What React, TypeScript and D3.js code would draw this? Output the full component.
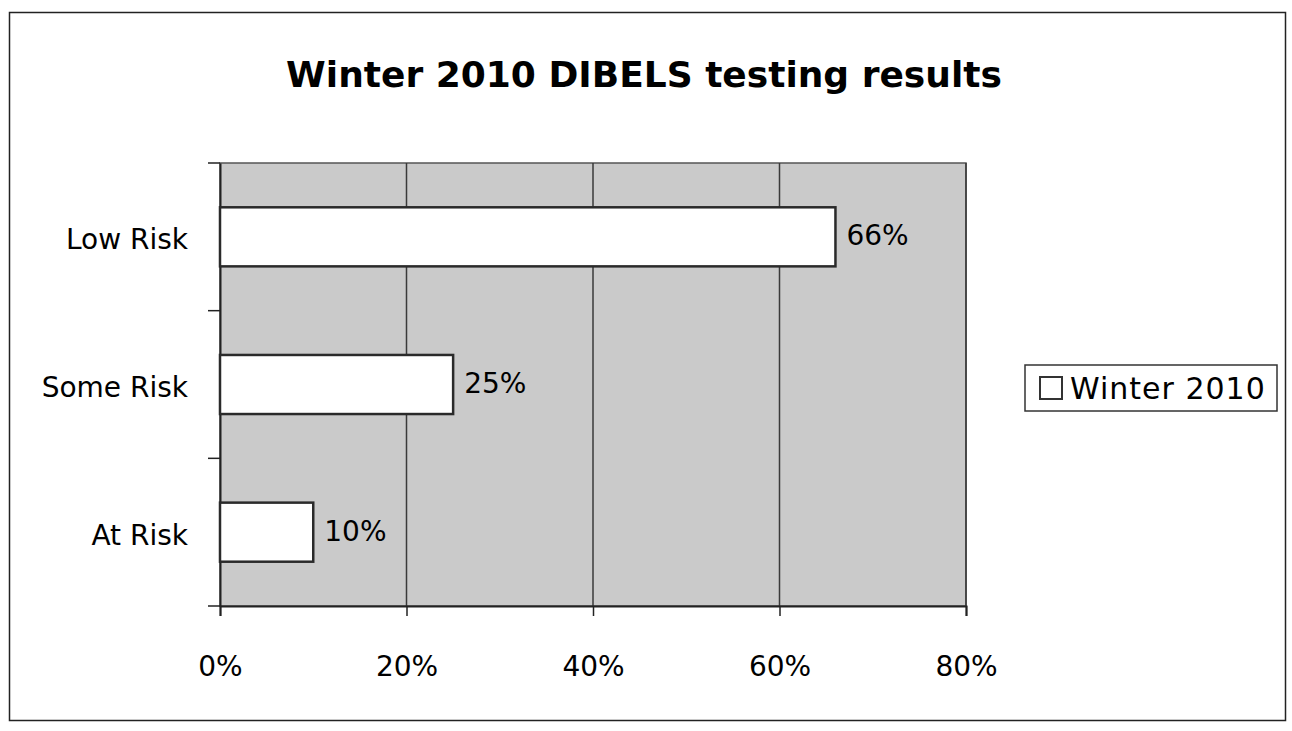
import React, { useRef, useEffect } from 'react';
import { select, scaleLinear, scaleBand, axisBottom, axisLeft, format } from 'd3';

const categories = ['Low Risk', 'Some Risk', 'At Risk'];
const winter2010 = [0.66, 0.25, 0.1];
const xTicks = [0, 0.2, 0.4, 0.6, 0.8];
const seriesName = 'Winter 2010';
const title = 'Winter 2010 DIBELS testing results';

const FONT = "'Comic Sans MS', 'DejaVu Sans', sans-serif";

function BarChart() {
  const svgRef = useRef<SVGSVGElement>(null);

  useEffect(() => {
    const svg = select(svgRef.current);
    svg.selectAll('*').remove();

    const plot = { left: 220, right: 966, top: 163, bottom: 606 };

    const xScale = scaleLinear().domain([0, 0.8]).range([plot.left, plot.right]);
    const yScale = scaleBand()
      .domain(categories)
      .range([plot.top, plot.bottom])
      .paddingInner(0.6)
      .paddingOuter(0.3);

    // outer chart border
    svg
      .append('rect')
      .attr('x', 9.5)
      .attr('y', 12.5)
      .attr('width', 1276)
      .attr('height', 708)
      .attr('fill', '#fff')
      .attr('stroke', '#222')
      .attr('stroke-width', 1.5);

    // title
    svg
      .append('text')
      .attr('x', 644)
      .attr('y', 87)
      .attr('text-anchor', 'middle')
      .attr('font-family', FONT)
      .attr('font-weight', 'bold')
      .attr('font-size', 36)
      .attr('fill', '#000')
      .text(title);

    // plot area
    svg
      .append('rect')
      .attr('x', plot.left)
      .attr('y', plot.top)
      .attr('width', plot.right - plot.left)
      .attr('height', plot.bottom - plot.top)
      .attr('fill', '#cacaca')
      .attr('stroke', '#555')
      .attr('stroke-width', 1.5);

    // vertical gridlines
    svg
      .selectAll('.grid')
      .data(xTicks.filter((t) => t > 0))
      .join('line')
      .attr('class', 'grid')
      .attr('x1', (d) => xScale(d))
      .attr('x2', (d) => xScale(d))
      .attr('y1', plot.top)
      .attr('y2', plot.bottom)
      .attr('stroke', '#3a3a3a')
      .attr('stroke-width', 1.5);

    // x axis
    const xAxis = axisBottom(xScale)
      .tickValues(xTicks)
      .tickFormat(format('.0%'))
      .tickSize(10)
      .tickPadding(40);
    const gx = svg
      .append('g')
      .attr('transform', `translate(0,${plot.bottom})`)
      .call(xAxis);
    gx.select('.domain').attr('stroke', '#222').attr('stroke-width', 2);
    gx.selectAll('.tick line').attr('stroke', '#222').attr('stroke-width', 1.5);
    gx.selectAll('.tick text')
      .attr('font-family', FONT)
      .attr('font-size', 28)
      .attr('fill', '#000');

    // y axis, ticks sit between categories
    const boundaries = [plot.top, ...categories.map((c) => (yScale(c) as number) + yScale.bandwidth() / 2 + yScale.step() / 2)];
    svg
      .selectAll('.ytick')
      .data(boundaries)
      .join('line')
      .attr('class', 'ytick')
      .attr('x1', plot.left - 12)
      .attr('x2', plot.left)
      .attr('y1', (d) => d)
      .attr('y2', (d) => d)
      .attr('stroke', '#222')
      .attr('stroke-width', 1.5);

    const yAxis = axisLeft(yScale).tickSize(0).tickPadding(32);
    const gy = svg.append('g').attr('transform', `translate(${plot.left},0)`).call(yAxis);
    gy.select('.domain').attr('stroke', '#222').attr('stroke-width', 2);
    gy.selectAll('.tick text')
      .attr('font-family', FONT)
      .attr('font-size', 28)
      .attr('dy', '0.45em')
      .attr('fill', '#000');

    // bars
    svg
      .selectAll('.bar')
      .data(winter2010)
      .join('rect')
      .attr('class', 'bar')
      .attr('x', xScale(0))
      .attr('y', (d, i) => yScale(categories[i]) as number)
      .attr('width', (d) => xScale(d) - xScale(0))
      .attr('height', yScale.bandwidth())
      .attr('fill', '#fff')
      .attr('stroke', '#2a2a2a')
      .attr('stroke-width', 2.5);

    // value labels
    svg
      .selectAll('.label')
      .data(winter2010)
      .join('text')
      .attr('class', 'label')
      .attr('x', (d) => xScale(d) + 11)
      .attr('y', (d, i) => (yScale(categories[i]) as number) + yScale.bandwidth() / 2)
      .attr('dy', '0.3em')
      .attr('font-family', FONT)
      .attr('font-size', 28)
      .attr('fill', '#000')
      .text((d) => format('.0%')(d));

    // legend
    const legend = svg.append('g').attr('transform', 'translate(1025,365)');
    legend
      .append('rect')
      .attr('width', 252)
      .attr('height', 46)
      .attr('fill', '#fff')
      .attr('stroke', '#333')
      .attr('stroke-width', 1.5);
    legend
      .append('rect')
      .attr('x', 15)
      .attr('y', 12)
      .attr('width', 22)
      .attr('height', 22)
      .attr('fill', '#fff')
      .attr('stroke', '#333')
      .attr('stroke-width', 2);
    legend
      .append('text')
      .attr('x', 45)
      .attr('y', 23)
      .attr('dy', '0.35em')
      .attr('font-family', FONT)
      .attr('font-size', 30)
      .attr('letter-spacing', 1)
      .attr('fill', '#000')
      .text(seriesName);
  }, []);

  return (
    <svg
      ref={svgRef}
      width={1292}
      height={731}
      style={{ position: 'absolute', left: 0, top: 0, background: '#fff' }}
    />
  );
}

export default function App() {
  return <BarChart />;
}
